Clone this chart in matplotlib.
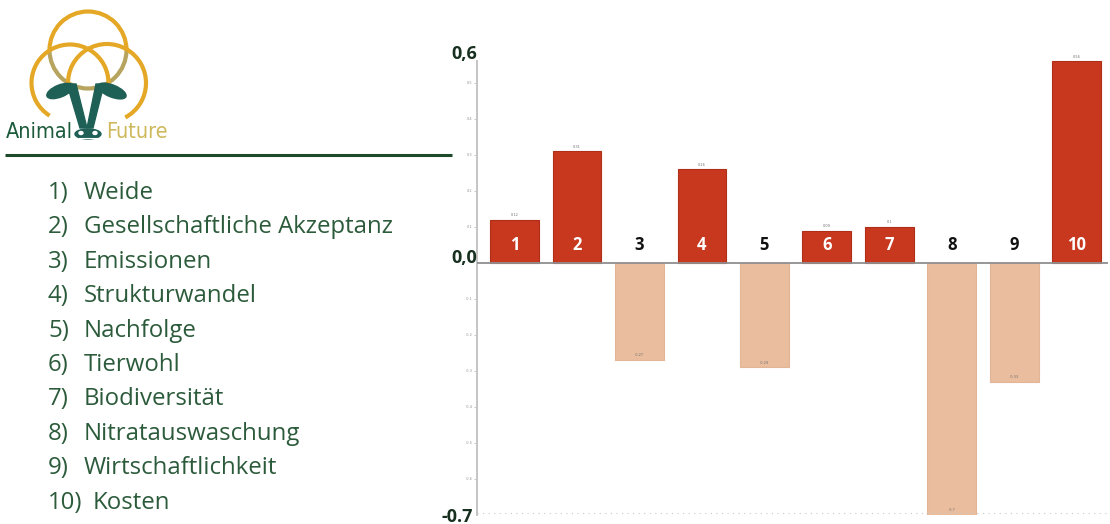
import matplotlib
matplotlib.use("Agg")
import matplotlib.pyplot as plt
from matplotlib.patches import Arc, Polygon, Ellipse
import numpy as np

# Chart data
bar_ids = ["1", "2", "3", "4", "5", "6", "7", "8", "9", "10"]
scores = [0.12, 0.31, -0.27, 0.26, -0.29, 0.09, 0.10, -0.70, -0.33, 0.56]
value_texts = ["0.12", "0.31", "-0.27", "0.26", "-0.29", "0.09", "0.1", "-0.7", "-0.33", "0.56"]
topics = ["Weide", "Gesellschaftliche Akzeptanz", "Emissionen", "Strukturwandel",
          "Nachfolge", "Tierwohl", "Biodiversität", "Nitratauswaschung",
          "Wirtschaftlichkeit", "Kosten"]
minor_ticks = [0.5, 0.4, 0.3, 0.2, 0.1, -0.1, -0.2, -0.3, -0.4, -0.5, -0.6]

POS = "#C7381F"
NEG = "#E9BD9E"
GREEN = "#2C5B3B"

W, H = 1110, 524
fig = plt.figure(figsize=(W / 100, H / 100), dpi=100)

# ---- bar chart ----
ax = fig.add_axes([477 / W, (H - 515) / H, (1108 - 477) / W, (515 - 47) / H])
x = np.arange(len(scores))
colors = [POS if v > 0 else NEG for v in scores]
edges = ["#AE2E18" if v > 0 else "#E2B597" for v in scores]
ax.bar(x, scores, width=0.78, color=colors, edgecolor=edges, linewidth=0.8, zorder=2)
ax.set_xlim(-0.6, 9.5)
ax.set_ylim(-0.7, 0.6)
ax.axhline(0, color="#8f8f8f", lw=1.3, zorder=3)
for s in ["top", "right", "bottom"]:
    ax.spines[s].set_visible(False)
ax.spines["left"].set_color("#c4c4c4")
ax.spines["left"].set_linewidth(1.4)
ax.spines["left"].set_bounds(-0.7, 0.56)
ax.set_xticks([])
ax.set_yticks(minor_ticks)
ax.set_yticklabels([f"{t:.1f}" for t in minor_ticks], fontsize=2.5, color="#909090")
ax.tick_params(axis="y", length=2, width=0.5, color="#b0b0b0", pad=1)

# bold main axis labels
lab_kw = dict(fontsize=13, fontweight="bold", color="#17301F", family="Open Sans",
              ha="right", va="center", clip_on=False)
ax.text(-0.6, 0.58, "0,6", **lab_kw)
ax.text(-0.6, 0.015, "0,0", **lab_kw)
ax.text(-0.66, -0.705, "-0.7", **lab_kw)

# faint dotted baseline at the bottom
ax.plot([-0.6, 9.5], [-0.695, -0.695], ls=(0, (1, 4)), color="#c8c8c8", lw=0.8,
        clip_on=False)

for xi, v, lbl, vt in zip(x, scores, bar_ids, value_texts):
    txt_color = "white" if v > 0 else "#111111"
    ax.text(xi, 0.05, lbl, ha="center", va="center", fontsize=12,
            fontweight="bold", color=txt_color, family="Open Sans", zorder=4)
    ax.text(xi, v + 0.008, vt, ha="center", va="bottom", fontsize=2.5,
            color="#707070", zorder=4)

# ---- left panel: logo, rule and topic list ----
lx = fig.add_axes([0, 0, 1, 1], zorder=-1)
lx.set_xlim(0, W)
lx.set_ylim(H, 0)
lx.axis("off")

gold = "#E4A826"
# y axis is inverted here, so angles 180..360 lie above the centre on screen
lx.add_patch(Arc((88, 50), 77, 77, theta1=180, theta2=360, color=gold, lw=3.0))
lx.add_patch(Arc((88, 50), 77, 77, theta1=0, theta2=180, color="#B7A45E", lw=3.0))
lx.add_patch(Arc((70, 83), 77, 77, theta1=122, theta2=2, color=gold, lw=3.0))
lx.add_patch(Arc((107, 83), 78, 78, theta1=178, theta2=62, color=gold, lw=3.0))

teal = "#1E5F56"
# ears
lx.add_patch(Ellipse((60, 91), 28, 12, angle=-22, color=teal))
lx.add_patch(Ellipse((112, 91), 30, 12, angle=22, color=teal))
# face strands
lx.add_patch(Polygon([(67, 84), (76, 84), (87, 128), (80, 128)], closed=True, color=teal))
lx.add_patch(Polygon([(104, 84), (96, 84), (87, 128), (93, 128)], closed=True, color=teal))
# nose
lx.add_patch(Ellipse((88, 134), 26, 10, color=teal))
lx.add_patch(Ellipse((81, 133), 4, 3, color="white"))
lx.add_patch(Ellipse((95, 133), 4, 3, color="white"))
lx.plot([79, 97], [137.5, 137.5], color="white", lw=0.8)

logo_font = dict(family="DejaVu Sans", fontstretch="condensed", fontsize=15.5,
                 ha="center", va="baseline")
lx.text(39, 138, "Animal", color="#1B5A3A", **logo_font)
lx.text(137, 138, "Future", color="#CDB95C", **logo_font)

lx.plot([5, 452], [155, 155], color="#1E4A2A", lw=2.2, solid_capstyle="butt")

y0, dy = 193, 34.4
for i, name in enumerate(topics):
    lx.text(48, y0 + i * dy, f"{i + 1})", ha="left", va="center", fontsize=17.3,
            family="Open Sans", color=GREEN)
    lx.text(84 if i < 9 else 93, y0 + i * dy, name, ha="left", va="center",
            fontsize=17.3, family="Open Sans", color=GREEN)

fig.savefig("out.png", dpi=100)
